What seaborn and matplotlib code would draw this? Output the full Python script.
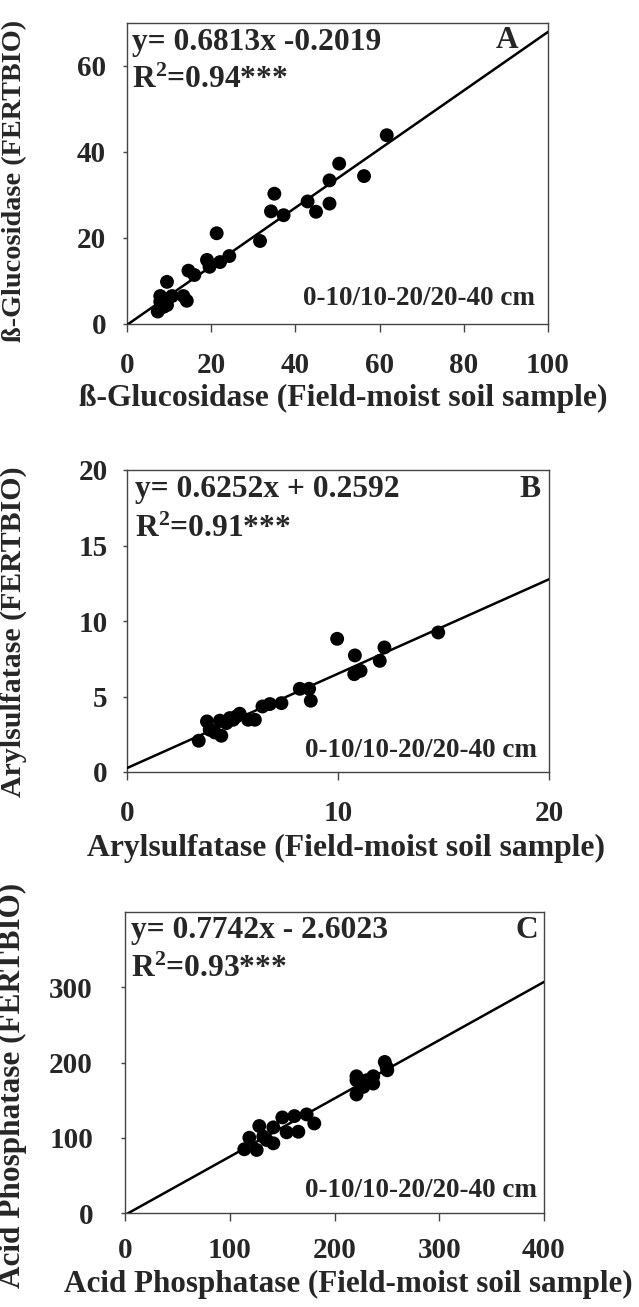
import numpy as np
import pandas as pd
import matplotlib
matplotlib.use("Agg")
import matplotlib.pyplot as plt
import seaborn as sns

# ---------------- data ----------------
glu_field = [61.7, 50.4, 48.1, 56.3, 48.1, 42.9, 44.9, 35.0, 34.2, 37.2, 31.6, 21.3,
             24.3, 22.1, 19.0, 19.6, 16.0, 14.6, 9.5, 7.9, 10.7, 13.4, 14.2, 9.5, 7.3, 8.7, 7.9]
glu_fert = [43.9, 37.3, 33.4, 34.4, 28.0, 28.5, 26.1, 30.3, 26.2, 25.3, 19.3, 21.1,
            15.8, 14.4, 14.9, 13.3, 11.4, 12.4, 9.8, 6.5, 6.5, 6.5, 5.4, 4.4, 2.9, 4.0, 5.2]

ary_field = [14.75, 9.96, 10.8, 12.2, 11.98, 10.77, 11.07, 8.19, 8.63, 8.71, 7.32, 6.77, 6.42,
             6.06, 5.74, 5.34, 5.19, 5.03, 4.71, 4.40, 3.79, 3.92, 4.16, 4.47, 3.40, 4.87]
ary_fert = [9.24, 8.82, 7.72, 8.25, 7.36, 6.48, 6.70, 5.51, 5.51, 4.72, 4.56, 4.50, 4.34,
            3.46, 3.46, 3.86, 3.68, 3.46, 3.24, 3.40, 3.35, 2.80, 2.62, 2.40, 2.07, 3.57]

aph_field = [248, 250.4, 249.8, 221, 221, 221, 226, 230.7, 237, 237, 227.5, 173.4, 180.7,
             161.7, 165.5, 150.2, 154.3, 141.6, 128.2, 118.7, 132, 125.7, 113.9, 141.6, 135.2]
aph_fert = [200.7, 189.7, 194, 181.7, 176.4, 157.5, 172, 176.4, 181.7, 172, 167.6, 131, 119,
            128.8, 108, 127, 107.2, 113.8, 115.6, 100, 101.5, 83.8, 84.7, 92.6, 97]

slopes = [0.6813, 0.6252, 0.7742]
intercepts = [-0.2019, 0.2592, -2.6023]
eq_texts = ["y= 0.6813x -0.2019", "y= 0.6252x + 0.2592", "y= 0.7742x - 2.6023"]
r2_texts = ["R$^2$=0.94***", "R$^2$=0.91***", "R$^2$=0.93***"]
letters = ["A", "B", "C"]
depth_text = "0-10/10-20/20-40 cm"
xlabels = ["ß-Glucosidase (Field-moist soil sample)",
           "Arylsulfatase (Field-moist soil sample)",
           "Acid Phosphatase (Field-moist soil sample)"]
ylabels = ["ß-Glucosidase (FERTBIO)", "Arylsulfatase (FERTBIO)", "Acid Phosphatase (FERTBIO)"]
xlims = [100, 20, 400]
ylims = [70, 20, 400]
xticks = [[0, 20, 40, 60, 80, 100], [0, 10, 20], [0, 100, 200, 300, 400]]
yticks = [[0, 20, 40, 60], [0, 5, 10, 15, 20], [0, 100, 200, 300]]

# ---------------- style ----------------
sns.set_style("white")
plt.rcParams["font.family"] = ["Liberation Serif", "DejaVu Serif"]
plt.rcParams["font.weight"] = "bold"
plt.rcParams["mathtext.default"] = "regular"

W, H = 639, 1307
fig = plt.figure(figsize=(W / 100, H / 100), dpi=100)

# axes boxes in pixels: left, top, right, bottom
boxes = [(127, 23, 548, 324), (127, 470, 549, 772), (125, 912, 544, 1213)]
ytick_pad = [12, 11, 20]
xtick_pad = [14, 14, 11]
xlabel_pos = [(0.513, -0.200), (0.519, -0.205), (0.532, -0.19)]
ylabel_pos = [(-0.2375, 0.475), (-0.237, 0.464), (-0.234, 0.425)]
ylabel_size = [20.3, 21.5, 22.5]
xlabel_size = [22.8, 22.8, 22.4]
eq_pos = [(0.012, 0.910, 0.784), (0.019, 0.911, 0.778), (0.014, 0.914, 0.784)]
let_pos = [(0.929, 0.917), (0.979, 0.911), (0.986, 0.914)]
dep_pos = [(0.969, 0.063), (0.972, 0.05), (0.983, 0.053)]

datasets = [(glu_field, glu_fert), (ary_field, ary_fert), (aph_field, aph_fert)]

for i in range(3):
    l, t, r, b = boxes[i]
    ax = fig.add_axes([l / W, 1 - b / H, (r - l) / W, (b - t) / H])
    xs, ys = datasets[i]
    df = pd.DataFrame({"x": xs, "y": ys})
    sns.scatterplot(data=df, x="x", y="y", ax=ax, color="black", s=100,
                    edgecolor="none", zorder=3, legend=False)
    xl = np.array([0.0, xlims[i]])
    line_df = pd.DataFrame({"x": xl, "y": slopes[i] * xl + intercepts[i]})
    sns.lineplot(data=line_df, x="x", y="y", ax=ax, color="black", lw=1.8, zorder=4)
    ax.set_xlim(0, xlims[i])
    ax.set_ylim(0, ylims[i])
    ax.set_xticks(xticks[i])
    ax.set_yticks(yticks[i])
    ax.tick_params(axis="both", direction="out", width=1, color="#444444",
                   labelsize=21, bottom=True, left=True)
    ax.tick_params(axis="y", pad=ytick_pad[i], length=3)
    ax.tick_params(axis="x", pad=xtick_pad[i], length=6)
    for lab in ax.get_xticklabels() + ax.get_yticklabels():
        lab.set_fontweight("bold")
    for sp in ax.spines.values():
        sp.set_color("#444444")
        sp.set_linewidth(1.0)
        sp.set_visible(True)
    ax.set_xlabel(xlabels[i], fontsize=xlabel_size[i], fontweight="bold")
    ax.set_ylabel(ylabels[i], fontsize=ylabel_size[i], fontweight="bold")
    ax.xaxis.set_label_coords(*xlabel_pos[i])
    ax.yaxis.set_label_coords(*ylabel_pos[i])
    ex, ey1, ey2 = eq_pos[i]
    ax.text(ex, ey1, eq_texts[i], transform=ax.transAxes, fontsize=22.7,
            fontweight="bold", ha="left", va="baseline")
    ax.text(ex, ey2, r2_texts[i], transform=ax.transAxes, fontsize=22.7,
            fontweight="bold", ha="left", va="baseline")
    ax.text(let_pos[i][0], let_pos[i][1], letters[i], transform=ax.transAxes,
            fontsize=22.7, fontweight="bold", ha="right", va="baseline")
    ax.text(dep_pos[i][0], dep_pos[i][1], depth_text, transform=ax.transAxes,
            fontsize=19.5, fontweight="bold", ha="right", va="baseline")

fig.savefig("out.png", dpi=100)
